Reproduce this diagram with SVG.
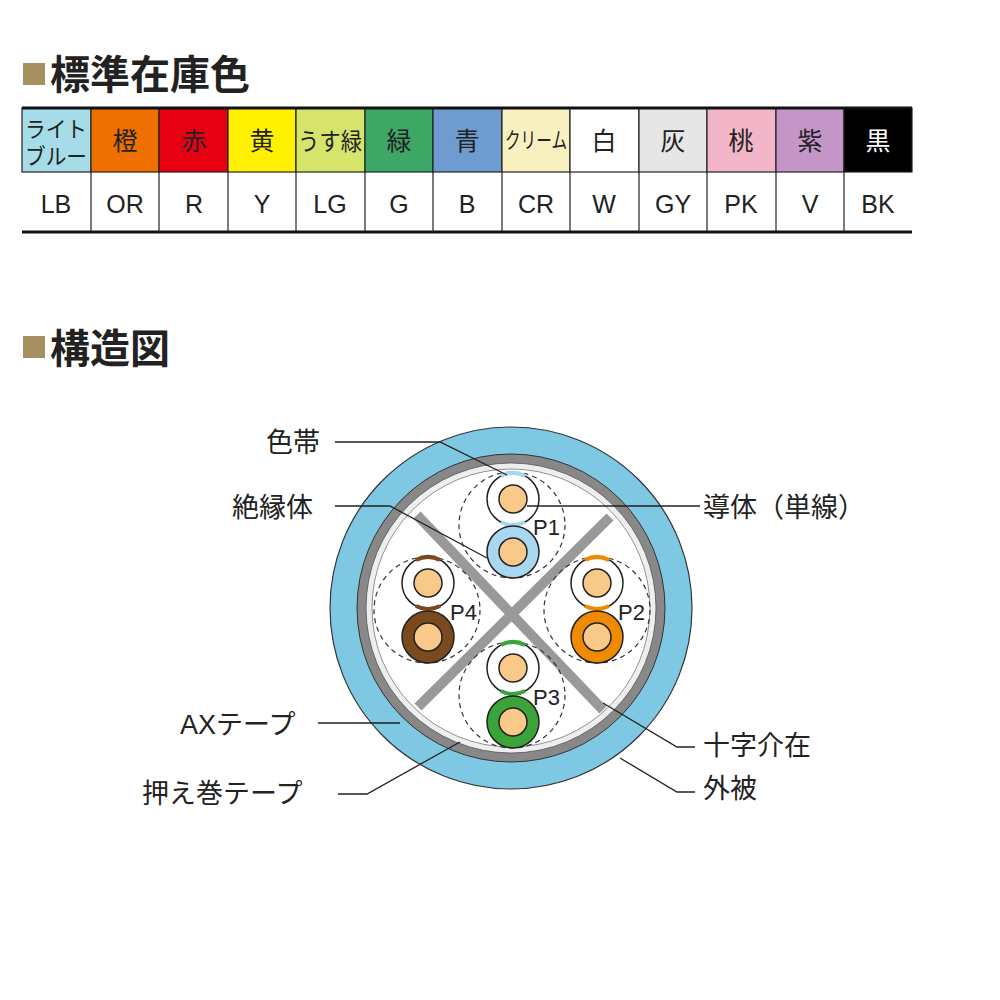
<svg xmlns="http://www.w3.org/2000/svg" width="1000" height="1000" viewBox="0 0 1000 1000">
<style>
text{font-family:"Liberation Sans","Noto Sans CJK JP",sans-serif;fill:#222}
.h{font-size:40px;font-weight:bold}
.c{font-size:25px;text-anchor:middle}
.l{font-size:27px}
.p{font-size:22px}
.cell{stroke:#222;stroke-width:1.2}
.ld{fill:none;stroke:#222;stroke-width:1.3}
.dash{fill:none;stroke:#333;stroke-width:1.2;stroke-dasharray:5 4}
.wire{stroke:#222;stroke-width:1.5}
.cond{fill:#f9c98a;stroke:#222;stroke-width:1.5}
.cross{stroke:#999;stroke-width:10}
</style>
<rect x="0" y="0" width="1000" height="1000" fill="#fff"/>
<g id="title1"><rect x="23" y="63" width="22" height="22" fill="#a69060"/><text class="h" x="50" y="89">標準在庫色</text></g>
<g id="table">
<g class="cell">
<rect x="22" y="108" width="69" height="64" fill="#a6dbe8"/>
<rect x="91" y="108" width="68" height="64" fill="#ee7000"/>
<rect x="159" y="108" width="69" height="64" fill="#e60012"/>
<rect x="228" y="108" width="68" height="64" fill="#fff100"/>
<rect x="296" y="108" width="69" height="64" fill="#d7e46c"/>
<rect x="365" y="108" width="68" height="64" fill="#3ea765"/>
<rect x="433" y="108" width="69" height="64" fill="#6e9bd0"/>
<rect x="502" y="108" width="68" height="64" fill="#f9f0c0"/>
<rect x="570" y="108" width="69" height="64" fill="#fff"/>
<rect x="639" y="108" width="68" height="64" fill="#e6e6e6"/>
<rect x="707" y="108" width="69" height="64" fill="#f3b5c8"/>
<rect x="776" y="108" width="68" height="64" fill="#c496c8"/>
<rect x="844" y="108" width="68" height="64" fill="#000"/>
</g>
<g stroke="#222" stroke-width="1.2">
<line x1="91" y1="172" x2="91" y2="232"/><line x1="159" y1="172" x2="159" y2="232"/><line x1="228" y1="172" x2="228" y2="232"/><line x1="296" y1="172" x2="296" y2="232"/><line x1="365" y1="172" x2="365" y2="232"/><line x1="433" y1="172" x2="433" y2="232"/><line x1="502" y1="172" x2="502" y2="232"/><line x1="570" y1="172" x2="570" y2="232"/><line x1="639" y1="172" x2="639" y2="232"/><line x1="707" y1="172" x2="707" y2="232"/><line x1="776" y1="172" x2="776" y2="232"/><line x1="844" y1="172" x2="844" y2="232"/>
</g>
<line x1="22" y1="108" x2="912" y2="108" stroke="#111" stroke-width="3"/>
<line x1="22" y1="232" x2="912" y2="232" stroke="#111" stroke-width="3"/>
<text x="56" y="137" style="font-size:22px;text-anchor:middle" textLength="62" lengthAdjust="spacingAndGlyphs">ライト</text>
<text x="56" y="164" style="font-size:22px;text-anchor:middle" textLength="62" lengthAdjust="spacingAndGlyphs">ブルー</text>
<text class="c" x="125" y="150">橙</text><text class="c" x="194" y="150">赤</text><text class="c" x="262" y="150">黄</text>
<text x="330" y="150" style="font-size:24px;text-anchor:middle" textLength="64" lengthAdjust="spacingAndGlyphs">うす緑</text>
<text class="c" x="399" y="150">緑</text><text class="c" x="467" y="150">青</text>
<text x="536" y="148" style="font-size:22px;text-anchor:middle" textLength="62" lengthAdjust="spacingAndGlyphs">クリーム</text>
<text class="c" x="604" y="150">白</text><text class="c" x="673" y="150">灰</text><text class="c" x="741" y="150">桃</text><text class="c" x="810" y="150">紫</text>
<text class="c" x="878" y="150" style="fill:#fff">黒</text>
<text class="c" x="56" y="213">LB</text><text class="c" x="125" y="213">OR</text><text class="c" x="194" y="213">R</text><text class="c" x="262" y="213">Y</text><text class="c" x="330" y="213">LG</text><text class="c" x="399" y="213">G</text><text class="c" x="467" y="213">B</text><text class="c" x="536" y="213">CR</text><text class="c" x="604" y="213">W</text><text class="c" x="673" y="213">GY</text><text class="c" x="741" y="213">PK</text><text class="c" x="810" y="213">V</text><text class="c" x="878" y="213">BK</text>
</g>
<g id="title2"><rect x="23" y="336" width="22" height="22" fill="#a69060"/><text class="h" x="50" y="363">構造図</text></g>
<g id="cable">
<circle cx="511" cy="608" r="181" fill="#7ec8e3" stroke="#333" stroke-width="1.2"/>
<circle cx="511" cy="608" r="154" fill="#888" stroke="#333" stroke-width="1"/>
<circle cx="511" cy="608" r="145" fill="#eee" stroke="#555" stroke-width="0.8"/>
<circle cx="511" cy="608" r="139" fill="#fff" stroke="#777" stroke-width="0.8"/>
<line class="cross" x1="417" y1="515" x2="603" y2="710"/>
<line class="cross" x1="610" y1="517" x2="418" y2="707"/>
<circle class="dash" cx="512" cy="525" r="53"/>
<circle class="dash" cx="597" cy="610" r="53"/>
<circle class="dash" cx="512" cy="695" r="53"/>
<circle class="dash" cx="427" cy="610" r="53"/>
<circle class="wire" cx="513" cy="499" r="26" fill="#fff"/>
<path d="M501,476 A26,26 0 0 1 525,476 M501,522 A26,26 0 0 0 525,522" stroke="#a7d8f0" stroke-width="4" fill="none"/>
<circle class="cond" cx="513" cy="499" r="14"/>
<circle class="wire" cx="513" cy="552" r="26" fill="#a7d8f0"/>
<circle class="cond" cx="513" cy="552" r="14"/>
<text class="p" x="533" y="535">P1</text>
<circle class="wire" cx="597" cy="583" r="26" fill="#fff"/>
<path d="M585,560 A26,26 0 0 1 609,560 M585,606 A26,26 0 0 0 609,606" stroke="#f08a00" stroke-width="4" fill="none"/>
<circle class="cond" cx="597" cy="583" r="14"/>
<circle class="wire" cx="597" cy="637" r="26" fill="#f08a00"/>
<circle class="cond" cx="597" cy="637" r="14"/>
<text class="p" x="618" y="620">P2</text>
<circle class="wire" cx="513" cy="668" r="26" fill="#fff"/>
<path d="M501,645 A26,26 0 0 1 525,645 M501,691 A26,26 0 0 0 525,691" stroke="#3aa33a" stroke-width="4" fill="none"/>
<circle class="cond" cx="513" cy="668" r="14"/>
<circle class="wire" cx="513" cy="722" r="26" fill="#3aa33a"/>
<circle class="cond" cx="513" cy="722" r="14"/>
<text class="p" x="533" y="705">P3</text>
<circle class="wire" cx="428" cy="583" r="26" fill="#fff"/>
<path d="M416,560 A26,26 0 0 1 440,560 M416,606 A26,26 0 0 0 440,606" stroke="#7a4a1e" stroke-width="4" fill="none"/>
<circle class="cond" cx="428" cy="583" r="14"/>
<circle class="wire" cx="428" cy="637" r="26" fill="#7a4a1e"/>
<circle class="cond" cx="428" cy="637" r="14"/>
<text class="p" x="450" y="620">P4</text>
</g>
<g id="connectors">
<polyline class="ld" points="335,442 440,442 507,475"/>
<polyline class="ld" points="335,506 390,506 487,558"/>
<polyline class="ld" points="527,506 700,506"/>
<polyline class="ld" points="318,723 400,723"/>
<polyline class="ld" points="338,794 367,794 460,742"/>
<polyline class="ld" points="603,703 677,747 695,747"/>
<polyline class="ld" points="620,758 677,792 695,792"/>
</g>
<g id="labels">
<text class="l" x="266" y="452">色帯</text>
<text class="l" x="232" y="517">絶縁体</text>
<text class="l" x="703" y="517">導体（単線）</text>
<text class="l" x="180" y="734">AXテープ</text>
<text class="l" x="142" y="803">押え巻テープ</text>
<text class="l" x="703" y="755">十字介在</text>
<text class="l" x="703" y="798">外被</text>
</g>
</svg>
